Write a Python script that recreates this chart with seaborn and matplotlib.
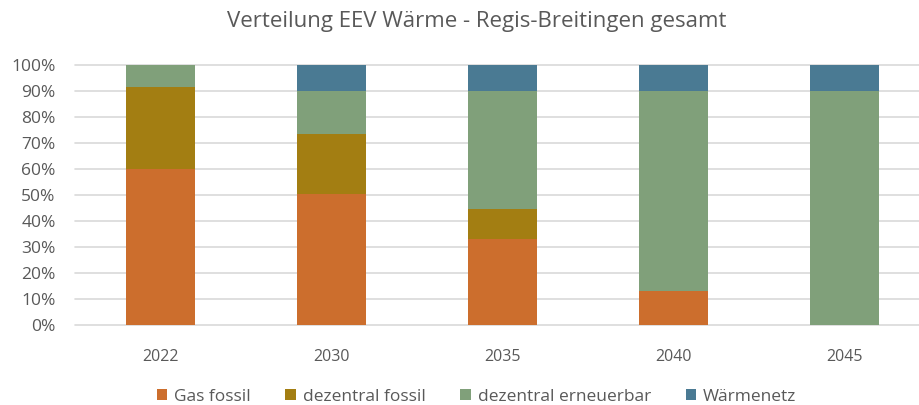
import matplotlib
matplotlib.use("Agg")
import matplotlib.pyplot as plt
from matplotlib.patches import Patch
from matplotlib.ticker import PercentFormatter
import numpy as np
import pandas as pd
import seaborn as sns

years = ["2022", "2030", "2035", "2040", "2045"]
gas_fossil = [60.0, 50.4, 33.0, 13.3, 0.0]
dezentral_fossil = [31.7, 23.1, 11.6, 0.0, 0.0]
dezentral_erneuerbar = [8.3, 16.5, 45.4, 76.7, 90.0]
waermenetz = [0.0, 10.0, 10.0, 10.0, 10.0]

series_names = ["Gas fossil", "dezentral fossil", "dezentral erneuerbar", "Wärmenetz"]
series_values = [gas_fossil, dezentral_fossil, dezentral_erneuerbar, waermenetz]
colors = ["#CC6E2D", "#A37E12", "#80A07A", "#4A7A93"]

sns.set_theme(style="white")
plt.rcParams["font.family"] = ["Open Sans", "DejaVu Sans"]
text_color = "#595959"

fig = plt.figure(figsize=(9.2, 4.05), dpi=100)
ax = fig.add_axes([75 / 920, 1 - 325.3 / 405, 845 / 920, (325.3 - 65) / 405])

bottom = np.zeros(len(years))
for name, vals, col in zip(series_names, series_values, colors):
    df = pd.DataFrame({"Jahr": years, "Anteil": vals})
    sns.barplot(data=df, x="Jahr", y="Anteil", order=years, color=col,
                width=0.4, bottom=bottom.copy(), ax=ax, saturation=1,
                edgecolor="none", linewidth=0, zorder=3)
    bottom += np.array(vals)

ax.set_ylim(0, 100)
ax.set_xlim(-0.5, -0.5 + 845 / 171)
ax.set_yticks(np.arange(0, 101, 10))
ax.yaxis.set_major_formatter(PercentFormatter(decimals=0))
ax.grid(axis="y", color="#D9D9D9", linewidth=1.2, zorder=0)
ax.grid(axis="x", visible=False)
for gl in ax.get_ygridlines():
    gl.set_clip_on(False)
for s in ax.spines.values():
    s.set_visible(False)
ax.set_xlabel("")
ax.set_ylabel("")
ax.tick_params(axis="both", length=0, colors=text_color)
ax.tick_params(axis="x", pad=17, labelsize=11.5)
ax.tick_params(axis="y", pad=14, labelsize=12.5)

fig.text(0.518, 1 - 22 / 405, "Verteilung EEV Wärme - Regis-Breitingen gesamt",
         ha="center", va="center", fontsize=16, color=text_color)

handles = [Patch(facecolor=c, edgecolor="none", label=n) for n, c in zip(series_names, colors)]
fig.legend(handles=handles, loc="center", bbox_to_anchor=(0.518, 1 - 397 / 405),
           ncol=4, frameon=False, fontsize=12.5, labelcolor=text_color,
           handlelength=0.6, handleheight=0.6, handletextpad=0.4, columnspacing=2.0)

fig.savefig("out.png", dpi=100)
